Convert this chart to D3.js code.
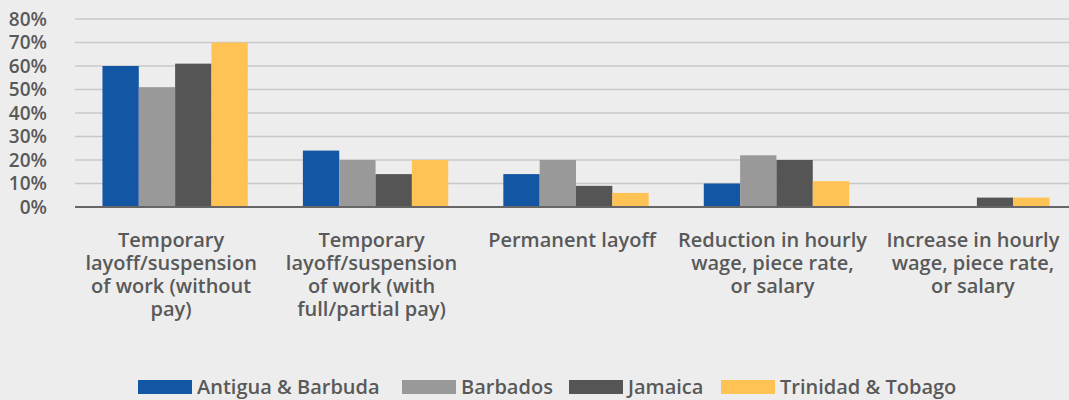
<!DOCTYPE html>
<html>
<head>
<meta charset="utf-8">
<script src="https://cdn.jsdelivr.net/npm/d3@7"></script>
<style>
  html, body { margin: 0; padding: 0; background: #ededed; }
  svg { display: block; font-family: "Open Sans", sans-serif; }
</style>
</head>
<body>
<div id="viz"></div>
<script>
// data
const categories = [
  ['Temporary', 'layoff/suspension', 'of work (without', 'pay)'],
  ['Temporary', 'layoff/suspension', 'of work (with', 'full/partial pay)'],
  ['Permanent layoff'],
  ['Reduction in hourly', 'wage, piece rate,', 'or salary'],
  ['Increase in hourly', 'wage, piece rate,', 'or salary']
];
const seriesNames = ['Antigua & Barbuda', 'Barbados', 'Jamaica', 'Trinidad & Tobago'];
const antigua = [0.60, 0.24, 0.14, 0.10, 0];
const barbados = [0.51, 0.20, 0.20, 0.22, 0];
const jamaica = [0.61, 0.14, 0.09, 0.20, 0.04];
const trinidad = [0.70, 0.20, 0.06, 0.11, 0.04];
const yTicks = [0, 0.1, 0.2, 0.3, 0.4, 0.5, 0.6, 0.7, 0.8];

const colors = ['#1256a4', '#9a9999', '#555555', '#ffc255'];
const series = [antigua, barbados, jamaica, trinidad];

const width = 1069, height = 400;
const svg = d3.select('#viz').append('svg')
  .attr('width', width)
  .attr('height', height);

svg.append('rect').attr('width', width).attr('height', height).attr('fill', '#ededed');

const x0 = d3.scaleBand()
  .domain(d3.range(categories.length))
  .range([75, 1077])
  .paddingInner(0.275)
  .paddingOuter(0.137);
const x1 = d3.scaleBand()
  .domain(d3.range(seriesNames.length))
  .range([0, x0.bandwidth()]);
const y = d3.scaleLinear().domain([0, 0.8]).range([207, 19]);

// gridlines
svg.append('g')
  .selectAll('line')
  .data(yTicks.filter(d => d > 0))
  .join('line')
  .attr('x1', 75).attr('x2', width)
  .attr('y1', d => y(d)).attr('y2', d => y(d))
  .attr('stroke', '#c8c8c8')
  .attr('stroke-width', 1.5);

// y labels
svg.append('g')
  .selectAll('text')
  .data(yTicks)
  .join('text')
  .attr('x', 47)
  .attr('y', d => y(d))
  .attr('dy', '0.35em')
  .attr('text-anchor', 'end')
  .attr('font-size', 19)
  .attr('font-weight', 600)
  .attr('fill', '#595959')
  .text(d3.format('.0%'));

// bars
const groups = svg.append('g')
  .selectAll('g')
  .data(categories.map((c, i) => i))
  .join('g')
  .attr('transform', i => `translate(${x0(i)},0)`);

groups.selectAll('rect')
  .data(i => series.map((s, k) => ({ k: k, v: s[i] })))
  .join('rect')
  .attr('x', d => x1(d.k))
  .attr('width', x1.bandwidth())
  .attr('y', d => y(d.v))
  .attr('height', d => y(0) - y(d.v))
  .attr('fill', d => colors[d.k]);

// baseline
svg.append('line')
  .attr('x1', 75).attr('x2', width)
  .attr('y1', y(0)).attr('y2', y(0))
  .attr('stroke', '#666666')
  .attr('stroke-width', 2);

// category labels (sit a few px left of the bar group centre, as in the original)
const catLabels = svg.append('g')
  .selectAll('text')
  .data(categories)
  .join('text')
  .attr('x', (d, i) => x0(i) + x0.bandwidth() / 2 - 4)
  .attr('y', 247)
  .attr('text-anchor', 'middle')
  .attr('font-size', 20)
  .attr('font-weight', 600)
  .attr('fill', '#595959');
catLabels.selectAll('tspan')
  .data(d => d)
  .join('tspan')
  .attr('x', function() { return this.parentNode.getAttribute('x'); })
  .attr('dy', (d, i) => i === 0 ? 0 : 23)
  .text(d => d);

// legend
const legendX = [138, 402, 569, 721];
const legend = svg.append('g')
  .selectAll('g')
  .data(seriesNames)
  .join('g')
  .attr('transform', (d, k) => `translate(${legendX[k]},0)`);
legend.append('rect')
  .attr('y', 380)
  .attr('width', 54).attr('height', 14)
  .attr('fill', (d, k) => colors[k]);
legend.append('text')
  .attr('x', 59).attr('y', 387)
  .attr('dy', '0.35em')
  .attr('font-size', 20)
  .attr('font-weight', 600)
  .attr('fill', '#595959')
  .text(d => d);
</script>
</body>
</html>
